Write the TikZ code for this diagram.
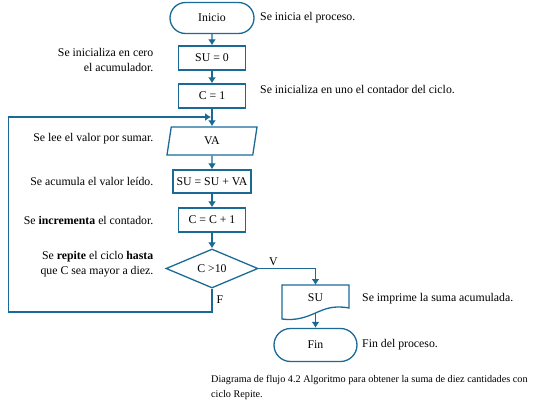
\documentclass[tikz,border=0pt]{standalone}
\usepackage{fontspec}
\setmainfont{Liberation Serif}
\usetikzlibrary{shapes.geometric}
\usetikzlibrary{shapes.misc}
\usetikzlibrary{calc}
\usetikzlibrary{arrows.meta}
\definecolor{flowblue}{HTML}{1B6A96}
\newcommand{\mainx}{212}
\newcommand{\boxw}{67pt}
\newcommand{\boxh}{24pt}
\newcommand{\notel}{153.5}
\newcommand{\noter}{260}
\newcommand{\noterb}{362}

\begin{document}
\begin{tikzpicture}[x=1pt,y=-1pt,font=\fontsize{11.8}{15}\selectfont,
    every node/.style={inner sep=0pt},
    termbox/.style={draw=flowblue,line width=1.3pt,rounded rectangle,
      minimum width=84pt,minimum height=31pt},
    procbox/.style={draw=flowblue,line width=1.3pt,
      minimum width=\boxw,minimum height=\boxh},
    iobox/.style={draw=flowblue,line width=1.3pt,trapezium,
      trapezium left angle=62,trapezium right angle=118,
      trapezium stretches body,minimum width=90pt,minimum height=28pt},
    decbox/.style={draw=flowblue,line width=1.3pt,diamond,
      minimum width=92pt,minimum height=39pt},
    docline/.style={draw=flowblue,line width=1.3pt},
    lnote/.style={anchor=east,align=right},
    rnote/.style={anchor=west,align=left},
    flow/.style={draw=flowblue,line width=1.3pt,
      -{Latex[length=6pt,width=8pt]}}]
    \useasboundingbox (0,0) rectangle (539,402);

    % main column
    \node[termbox] (inicio) at (\mainx,18) {Inicio};
    \node[procbox] (su0) at (\mainx,58) {SU = 0};
    \node[procbox] (c1) at (\mainx,96) {C = 1};
    \node[iobox] (va) at (\mainx,141) {VA};
    \node[procbox,minimum width=78pt,minimum height=23pt] (acum)
      at (\mainx,181.5) {SU = SU + VA};
    \node[procbox] (inc) at (\mainx,220) {C = C + 1};
    \node[decbox] (dec) at (\mainx,268.5) {C >10};

    % output document
    \node (su) at (315.5,298) {SU};
    \coordinate (su-top) at ($(su)+(0,-13)$);
    \coordinate (su-w) at ($(su)+(0,15)$);
    \draw[docline] ($(su)+(-33.5,-13)$) -- ($(su)+(33.5,-13)$)
      -- ($(su)+(33.5,10)$)
      .. controls ($(su)+(18,7)$) and ($(su)+(9,11)$) .. (su-w)
      .. controls ($(su)+(-9,19)$) and ($(su)+(-20,23)$) .. ($(su)+(-33.5,21)$)
      -- cycle;
    \node[termbox,minimum width=83pt,minimum height=33pt] (fin)
      at (315.5,345) {Fin};

    % loop corners
    \coordinate (loop-bl) at (8.3,312);
    \coordinate (loop-tl) at (8.3,117);
    \coordinate (join) at (211,117);

    \draw[flow] (inicio) -- (su0);
    \draw[flow] (su0) -- (c1);
    \draw[flow] (c1) -- (va);
    \draw[flow] (va) -- (acum);
    \draw[flow] (acum) -- (inc);
    \draw[flow] (inc) -- (dec);
    \draw[flow] (dec.east) -| node[pos=0.13,above=2pt] {V} (su-top);
    \draw[flow] (su-w) -- (fin);
    \draw[flow] (dec.south) |- node[pos=0.23,right=4pt] {F} (loop-bl)
      -- (loop-tl) -- (join);

    % notes
    \node[rnote] (n-inicio) at (\noter,18) {Se inicia el proceso.};
    \node[lnote] (n-su0) at (\notel,59.5) {Se inicializa en cero\\el acumulador.};
    \node[rnote] (n-c1) at (\noter,89) {Se inicializa en uno el contador del ciclo.};
    \node[lnote] (n-va) at (\notel,139) {Se lee el valor por sumar.};
    \node[lnote] (n-acum) at (\notel,181) {Se acumula el valor leído.};
    \node[lnote] (n-inc) at (\notel,220) {Se \textbf{incrementa} el contador.};
    \node[lnote] (n-dec) at (\notel,264)
      {Se \textbf{repite} el ciclo \textbf{hasta}\\que C sea mayor a diez.};
    \node[rnote] (n-su) at (\noterb,299) {Se imprime la suma acumulada.};
    \node[rnote] (n-fin) at (\noterb,345) {Fin del proceso.};

    \node[anchor=west,align=left,font=\fontsize{10.2}{15}\selectfont] (caption)
      at (211,387.5) {Diagrama de flujo 4.2 Algoritmo para obtener la suma de diez cantidades con\\ciclo Repite.};
  \end{tikzpicture}
\end{document}
